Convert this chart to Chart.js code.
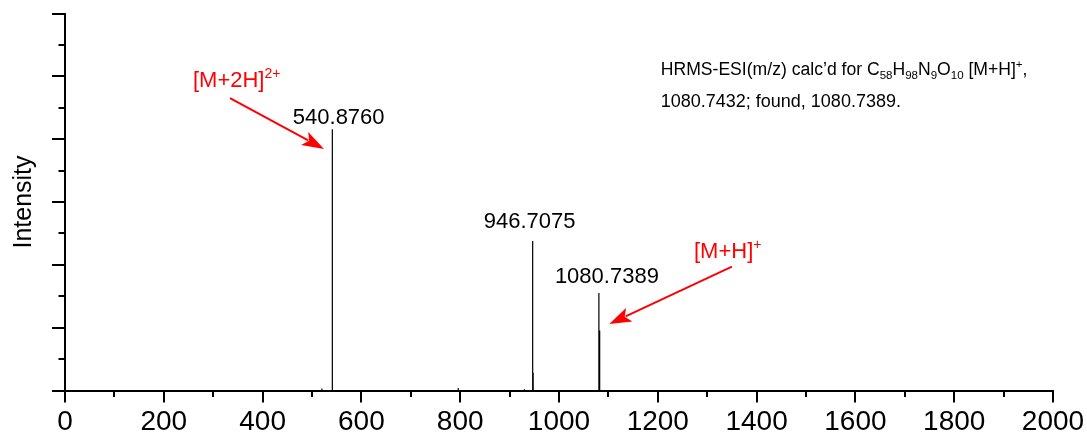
<!DOCTYPE html>
<html><head><meta charset="utf-8">
<script src="https://cdn.jsdelivr.net/npm/chart.js@4/dist/chart.umd.min.js"></script>
<style>html,body{margin:0;padding:0;background:#fff;}#wrap{width:1087px;height:441px;}</style>
</head><body><div id="wrap"><canvas id="c" width="1087" height="441"></canvas></div>
<script>
// ---- data ----
const peakMz        = [520, 540.8760, 541.38, 796, 930, 946.7075, 947.71, 1080.7389, 1081.74, 1082.74];
const peakIntensity = [0.03, 4.157,   1.748,  0.04, 0.02, 2.379,   0.283,  1.552,     0.955,   0.25];
const labelMz   = [540.8760, 946.7075, 1080.7389];
const labelText = ['540.8760', '946.7075', '1080.7389'];
const xTicks = [0, 200, 400, 600, 800, 1000, 1200, 1400, 1600, 1800, 2000];
const xMinorTicks = [100, 300, 500, 700, 900, 1100, 1300, 1500, 1700, 1900];
const yTicks = [0, 1, 2, 3, 4, 5, 6];
const yMinorTicks = [0.5, 1.5, 2.5, 3.5, 4.5, 5.5];

const FAM = '"Liberation Sans", Arial, sans-serif';

// stick spectrum built from the peak arrays
const stickData = [];
peakMz.forEach((m, i) => {
  stickData.push({x: m, y: 0}, {x: m, y: peakIntensity[i]}, {x: m, y: 0});
});

function rich(ctx, x, y, segs, color) {
  ctx.fillStyle = color; ctx.textBaseline = 'alphabetic'; ctx.textAlign = 'left';
  let cx = x;
  for (const s of segs) {
    ctx.font = s.size + 'px ' + FAM;
    ctx.fillText(s.t, cx, y + (s.dy || 0));
    cx += ctx.measureText(s.t).width;
  }
}
function arrow(ctx, x1, y1, x2, y2, color) {
  const ang = Math.atan2(y2 - y1, x2 - x1);
  const L = 22, W = 7.5;
  const bx = x2 - L * Math.cos(ang), by = y2 - L * Math.sin(ang);
  ctx.strokeStyle = color; ctx.fillStyle = color; ctx.lineWidth = 2;
  ctx.beginPath(); ctx.moveTo(x1, y1); ctx.lineTo(bx + 4 * Math.cos(ang), by + 4 * Math.sin(ang)); ctx.stroke();
  ctx.beginPath();
  ctx.moveTo(x2, y2);
  ctx.lineTo(bx + W * Math.sin(ang), by - W * Math.cos(ang));
  ctx.lineTo(bx + 5 * Math.cos(ang), by + 5 * Math.sin(ang));
  ctx.lineTo(bx - W * Math.sin(ang), by + W * Math.cos(ang));
  ctx.closePath(); ctx.fill();
}

const decor = {
  id: 'decor',
  afterDraw(chart) {
    const ctx = chart.ctx, xs = chart.scales.x, ys = chart.scales.y;
    ctx.save();
    // ticks
    ctx.strokeStyle = '#000'; ctx.lineWidth = 2;
    const yl = ys.right;
    yTicks.forEach(v => { const p = Math.round(ys.getPixelForValue(v)); ctx.beginPath(); ctx.moveTo(yl - 13, p); ctx.lineTo(yl, p); ctx.stroke(); });
    yMinorTicks.forEach(v => { const p = Math.round(ys.getPixelForValue(v)); ctx.beginPath(); ctx.moveTo(yl - 6.5, p); ctx.lineTo(yl, p); ctx.stroke(); });
    const xt = xs.top;
    xTicks.forEach(v => { const p = Math.round(xs.getPixelForValue(v)); ctx.beginPath(); ctx.moveTo(p, xt); ctx.lineTo(p, xt + 12); ctx.stroke(); });
    xMinorTicks.forEach(v => { const p = Math.round(xs.getPixelForValue(v)); ctx.beginPath(); ctx.moveTo(p, xt); ctx.lineTo(p, xt + 6.5); ctx.stroke(); });

    // peak labels
    const dxs = [6.5, -3, 8], gaps = [5, 13, 10];
    ctx.fillStyle = '#000'; ctx.font = '22px ' + FAM; ctx.textAlign = 'center'; ctx.textBaseline = 'alphabetic';
    labelMz.forEach((m, i) => {
      const idx = peakMz.indexOf(m);
      const px = xs.getPixelForValue(m), py = ys.getPixelForValue(peakIntensity[idx]);
      ctx.fillText(labelText[i], px + dxs[i], py - gaps[i]);
    });

    // red annotations (anchored in data coordinates)
    const P = (x, y) => [xs.getPixelForValue(x), ys.getPixelForValue(y)];
    const red = '#ff0000';
    let a = P(259, 4.835);
    rich(ctx, a[0], a[1], [{t: '[M+2H]', size: 22}, {t: '2+', size: 14, dy: -9}], red);
    let s = P(334, 4.655), e = P(524.3, 3.844);
    arrow(ctx, s[0], s[1], e[0], e[1], red);
    a = P(1273.3, 2.114);
    rich(ctx, a[0], a[1], [{t: '[M+H]', size: 22}, {t: '+', size: 14, dy: -9}], red);
    s = P(1350, 1.97); e = P(1101.8, 1.058);
    arrow(ctx, s[0], s[1], e[0], e[1], red);

    // info text
    a = P(1205.9, 5.022);
    rich(ctx, a[0], a[1], [
      {t: 'HRMS-ESI(m/z) calc\u2019d for C', size: 17.6}, {t: '58', size: 11.5, dy: 4},
      {t: 'H', size: 17.6}, {t: '98', size: 11.5, dy: 4},
      {t: 'N', size: 17.6}, {t: '9', size: 11.5, dy: 4},
      {t: 'O', size: 17.6}, {t: '10', size: 11.5, dy: 4},
      {t: ' [M+H]', size: 17.6}, {t: '+', size: 11.5, dy: -7}, {t: ',', size: 17.6}
    ], '#000');
    a = P(1205.9, 4.517);
    rich(ctx, a[0], a[1], [{t: '1080.7432; found, 1080.7389.', size: 18}], '#000');
    ctx.restore();
  }
};

new Chart(document.getElementById('c'), {
  type: 'scatter',
  data: { datasets: [{
    data: stickData, showLine: true, borderColor: '#000', borderWidth: 1.2,
    pointRadius: 0, pointHoverRadius: 0, tension: 0, clip: false
  }]},
  options: {
    responsive: false, animation: false, devicePixelRatio: 1,
    layout: { padding: { top: 13.5, right: 34, left: 0, bottom: 0 } },
    plugins: { legend: { display: false }, tooltip: { enabled: false } },
    events: [],
    scales: {
      x: {
        type: 'linear', position: 'bottom', min: 0, max: 2000,
        grid: { display: false },
        border: { display: true, color: '#000', width: 2 },
        ticks: { color: '#000', font: { size: 28, family: FAM }, padding: 7, maxRotation: 0, autoSkip: false,
                 callback: v => String(v) },
        afterBuildTicks: sc => { sc.ticks = xTicks.map(v => ({ value: v })); },
        afterFit: sc => { sc.height = 50.5; sc.paddingLeft = 0; sc.paddingRight = 0; }
      },
      y: {
        type: 'linear', position: 'left', min: 0, max: 6,
        grid: { display: false },
        border: { display: true, color: '#000', width: 2 },
        ticks: { display: false },
        afterBuildTicks: sc => { sc.ticks = yTicks.map(v => ({ value: v })); },
        title: { display: true, text: 'Intensity', color: '#000', font: { size: 25, family: FAM }, padding: { top: 9, bottom: 0 } },
        afterFit: sc => { sc.width = 65; sc.paddingTop = 0; sc.paddingBottom = 0; }
      }
    }
  },
  plugins: [decor]
});
</script></body></html>
